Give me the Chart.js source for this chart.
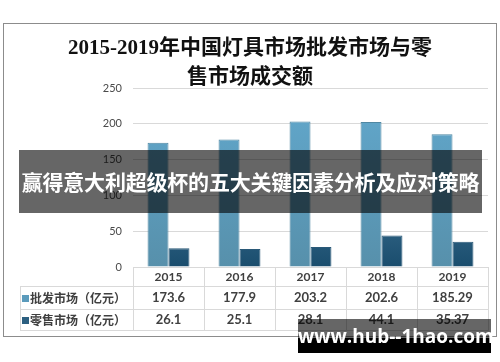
<!DOCTYPE html>
<html>
<head>
<meta charset="utf-8">
<script src="https://cdn.jsdelivr.net/npm/chart.js@4.4.0/dist/chart.umd.min.js"></script>
<style>
  html, body { margin: 0; padding: 0; background: #fff; }
  #wrap { position: relative; width: 500px; height: 362px; overflow: hidden; }
  canvas { position: absolute; left: 0; top: 0; }
  .abs { position: absolute; }
  #frame { left: 3px; top: 23px; width: 492px; height: 312px; border: 1px solid #8c8c8c; }
  #title { left: 0; width: 500px; top: 33px; text-align: center; font-family: "Liberation Serif", "Noto Sans CJK SC", serif; font-weight: bold; font-size: 21px; line-height: 29px; color: #111; }
  .hl { height: 1px; background: #d9d9d9; }
  .vl { width: 1px; background: #d9d9d9; }
  .cell { text-align: center; font-family: Lato, "Noto Sans CJK SC", sans-serif; font-weight: bold; color: #404040; white-space: nowrap; }
  .lab { font-family: "Noto Sans CJK SC", sans-serif; font-weight: bold; font-size: 12px; color: #404040; white-space: nowrap; }
  .sw { display: inline-block; width: 7px; height: 7px; margin-right: 1px; vertical-align: 1px; }
  #banner { left: 19px; top: 150px; width: 463px; height: 63px; background: rgba(0,0,0,0.6); color: #fff; font-family: "Noto Sans CJK SC", sans-serif; font-weight: bold; font-size: 21px; line-height: 63px; text-align: center; white-space: nowrap; letter-spacing: -0.2px; }
  #wm1 { left: 298px; top: 319px; width: 193px; height: 19px; background: rgba(0,0,0,0.6); }
  #wm2 { left: 298px; top: 338px; width: 193px; height: 15px; background: #000; }
  #wmt { left: 298px; top: 319px; width: 193px; height: 34px; line-height: 34px; color: #fff; text-align: center; font-family: "Open Sans", "DejaVu Sans", sans-serif; font-weight: bold; font-size: 19px; white-space: nowrap; }
</style>
</head>
<body>
<div id="wrap">
  <div id="frame" class="abs"></div>
  <canvas id="c" width="500" height="362"></canvas>
  <div id="title" class="abs">2015-2019年中国灯具市场批发市场与零<br>售市场成交额</div>
  <div id="table"></div>
  <div id="banner" class="abs">赢得意大利超级杯的五大关键因素分析及应对策略</div>
  <div id="wm1" class="abs"></div>
  <div id="wm2" class="abs"></div>
  <div id="wmt" class="abs">www.hub--1hao.com</div>
</div>
<script>
const years = ['2015', '2016', '2017', '2018', '2019'];
const wholesaleLabel = '批发市场（亿元）';
const retailLabel = '零售市场（亿元）';
const wholesale = [173.6, 177.9, 203.2, 202.6, 185.29];
const retail = [26.1, 25.1, 28.1, 44.1, 35.37];
const yTicks = [0, 50, 100, 150, 200, 250];

const wholesaleColor = '#5b9bbc';
const retailColor = '#2c5f80';

function gradWholesale(ctx) {
  const a = ctx.chart.chartArea;
  if (!a) return wholesaleColor;
  const g = ctx.chart.ctx.createLinearGradient(0, a.top, 0, a.bottom);
  g.addColorStop(0, '#62a9ce');
  g.addColorStop(1, '#5790ab');
  return g;
}
function gradRetail(ctx) {
  const a = ctx.chart.chartArea;
  if (!a) return retailColor;
  const g = ctx.chart.ctx.createLinearGradient(0, a.top + 100, 0, a.bottom);
  g.addColorStop(0, '#3e7294');
  g.addColorStop(1, '#1a4d6d');
  return g;
}

const chart = new Chart(document.getElementById('c'), {
  type: 'bar',
  data: {
    labels: years,
    datasets: [
      { label: wholesaleLabel, data: wholesale, backgroundColor: gradWholesale, borderColor: '#4f87a2', borderWidth: 1, categoryPercentage: 0.59, barPercentage: 1.0 },
      { label: retailLabel, data: retail, backgroundColor: gradRetail, borderColor: '#2a5978', borderWidth: 1, categoryPercentage: 0.59, barPercentage: 1.0 }
    ]
  },
  options: {
    responsive: false,
    animation: false,
    devicePixelRatio: 1,
    layout: { padding: { top: 88, right: 12, bottom: 95, left: 0 } },
    plugins: { legend: { display: false }, title: { display: false }, tooltip: { enabled: false } },
    scales: {
      x: { display: false },
      y: {
        min: 0, max: 250,
        afterBuildTicks: (s) => { s.ticks = yTicks.map(v => ({ value: v })); },
        afterFit: (s) => { s.width = 133; },
        ticks: { color: '#4a4a4a', padding: 11, font: { family: 'Lato', size: 11 } },
        grid: { color: '#d9d9d9', lineWidth: 1, drawTicks: false },
        border: { display: false }
      }
    }
  }
});

// Data table below the chart, aligned to the chart's own category scale
(function buildTable() {
  const t = document.getElementById('table');
  const a = chart.chartArea;
  const L = Math.round(a.left), R = Math.round(a.right), top = Math.round(a.bottom);
  const leftCol = 20;
  const rows = [top, top + 19, top + 42, top + 63];
  const n = years.length;
  const colX = [];
  for (let i = 0; i <= n; i++) colX.push(Math.round(L + (R - L) * i / n));
  function add(cls, style, html) {
    const d = document.createElement('div');
    d.className = 'abs ' + cls;
    Object.assign(d.style, style);
    if (html !== undefined) d.innerHTML = html;
    t.appendChild(d);
  }
  add('hl', { left: L + 'px', top: rows[0] + 'px', width: (R - L + 1) + 'px' });
  for (let r = 1; r < rows.length; r++) add('hl', { left: leftCol + 'px', top: rows[r] + 'px', width: (R - leftCol + 1) + 'px' });
  add('vl', { left: leftCol + 'px', top: rows[1] + 'px', height: (rows[3] - rows[1]) + 'px' });
  colX.forEach(x => add('vl', { left: x + 'px', top: rows[0] + 'px', height: (rows[3] - rows[0]) + 'px' }));
  const series = [wholesale, retail];
  years.forEach((y, i) => {
    const w = colX[i + 1] - colX[i];
    add('cell', { left: colX[i] + 'px', width: w + 'px', top: rows[0] + 'px', height: (rows[1] - rows[0]) + 'px', lineHeight: (rows[1] - rows[0]) + 'px', fontSize: '12px' }, y);
    series.forEach((s, k) => {
      add('cell', { left: colX[i] + 'px', width: w + 'px', top: rows[k + 1] + 'px', height: (rows[k + 2] - rows[k + 1]) + 'px', lineHeight: (rows[k + 2] - rows[k + 1]) + 'px', fontSize: '13px' }, String(s[i]));
    });
  });
  const labs = [[wholesaleLabel, wholesaleColor], [retailLabel, retailColor]];
  labs.forEach((lb, k) => {
    add('lab', { left: (leftCol + 2) + 'px', top: rows[k + 1] + 'px', height: (rows[k + 2] - rows[k + 1]) + 'px', lineHeight: (rows[k + 2] - rows[k + 1]) + 'px' },
      '<span class="sw" style="background:' + lb[1] + '"></span>' + lb[0]);
  });
})();
</script>
</body>
</html>
